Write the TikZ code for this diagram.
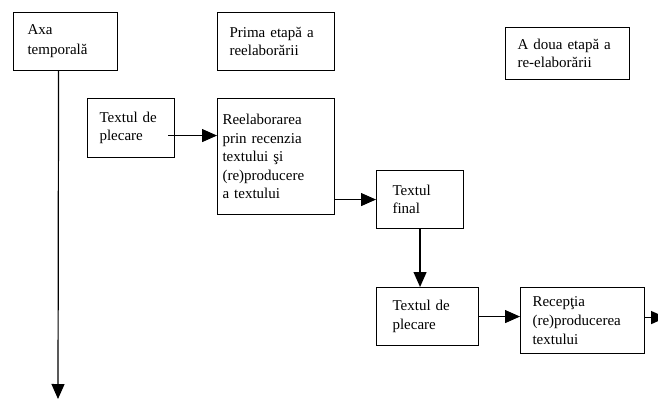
\documentclass[tikz,border=0pt]{standalone}
\usepackage{fontspec}
\setmainfont{Liberation Serif}
\usetikzlibrary{arrows.meta}

\begin{document}
\begin{tikzpicture}[x=1pt,y=-1pt]
    \tikzstyle{tblock} = [rectangle, draw=black, line width=1.1pt, anchor=north west,
    align=left, inner xsep=12pt, inner ysep=0pt, font=\fontsize{15}{18.6}\selectfont];
    \tikzstyle{line} = [draw, line width=1.2pt, -{Triangle[length=15pt,width=13pt]}];
    \useasboundingbox (0,0) rectangle (658,399);

    % Row 1
    \node [tblock, text width=76pt, minimum height=58pt, inner xsep=14pt] (axa) at (13,12) {Axa\\[1.5pt]temporală};
    \node [tblock, text width=93pt, minimum height=58pt] (prima) at (217,12) {Prima etapă a\\reelaborării};
    \node [tblock, text width=100pt, minimum height=52pt] (adoua) at (505,27) {A doua etapă a\\re-elaborării};
    % Row 2
    \node [tblock, text width=63pt, minimum height=59pt] (plecare1) at (87,98) {Textul de\\plecare};
    \node [tblock, text width=107pt, minimum height=116pt, inner xsep=5pt] (reelab) at (217,98)
      {Reelaborarea\\prin recenzia\\textului şi\\(re)producere\\a textului};
    \node [tblock, text width=55pt, minimum height=58pt, inner xsep=16pt] (final) at (376,170) {Textul\\final};
    % Row 3
    \node [tblock, text width=70pt, minimum height=58pt, inner xsep=16pt] (plecare2) at (376,287) {Textul de\\plecare};
    \node [tblock, text width=100pt, minimum height=66pt] (receptie) at (520,287) {Recepţia\\(re)producerea\\textului};

    \coordinate (axaend) at (58,399);
    \coordinate (p1out) at ([xshift=-7pt,yshift=-7.5pt]plecare1.east);
    \coordinate (recout) at ([xshift=21pt,yshift=3pt]receptie.east);

    % Drawing the links
    \draw [line] ([xshift=-7pt]axa.south) -- (axaend);
    \draw [line] (p1out) -- (p1out -| reelab.west);
    \draw [line] (final.west -| reelab.east) -- (final.west);
    \draw [line] (final.south) -- (final.south |- plecare2.north);
    \draw [line] (plecare2.east) -- (plecare2.east -| receptie.west);
    \draw [line] ([yshift=3pt]receptie.east) -- (recout);
\end{tikzpicture}
\end{document}
